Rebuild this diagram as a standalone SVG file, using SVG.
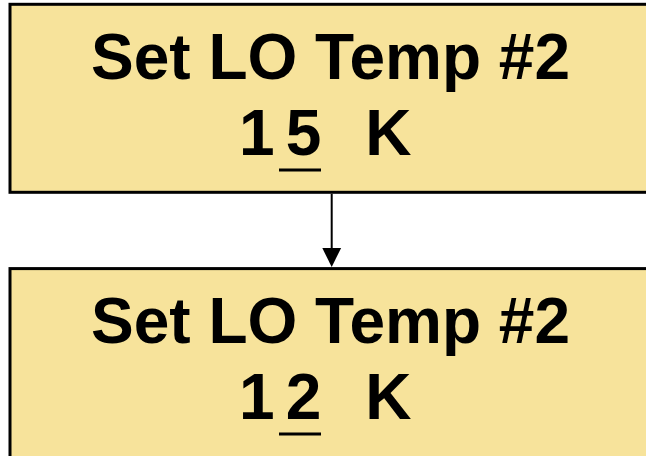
<svg xmlns="http://www.w3.org/2000/svg" width="646" height="456" viewBox="0 0 646 456">
  <style>
    .box { fill: #f7e39b; stroke: #000; stroke-width: 3; }
    .lbl { font-family: "Liberation Sans", Arial, sans-serif; font-weight: bold; font-size: 64px; fill: #000; }
    .mid { text-anchor: middle; }
    .cursor { stroke: #000; stroke-width: 3; }
    .conn { stroke: #000; stroke-width: 2; fill: none; }
  </style>

  <rect width="646" height="456" fill="#fff"/>

  <!-- first state -->
  <g id="state-15K">
    <rect class="box" x="10" y="4.3" width="660" height="188"/>
    <text class="lbl mid" x="330.5" y="79">Set LO Temp #2</text>
    <text class="lbl"><tspan x="239" y="155">1</tspan><tspan x="285.8" y="155">5</tspan><tspan x="365.3" y="155">K</tspan></text>
    <line class="cursor" x1="279" y1="170" x2="321" y2="170"/>
  </g>

  <!-- second state -->
  <g id="state-12K">
    <rect class="box" x="10" y="268.6" width="660" height="200"/>
    <text class="lbl mid" x="330.5" y="343">Set LO Temp #2</text>
    <text class="lbl"><tspan x="239" y="419">1</tspan><tspan x="285.8" y="419">2</tspan><tspan x="365.3" y="419">K</tspan></text>
    <line class="cursor" x1="279" y1="434" x2="321" y2="434"/>
  </g>

  <!-- transition -->
  <g id="connectors">
    <line class="conn" x1="331.7" y1="193.8" x2="331.7" y2="252"/>
    <path d="M322.3,248 L341.1,248 L331.7,267 Z" fill="#000"/>
  </g>
</svg>
